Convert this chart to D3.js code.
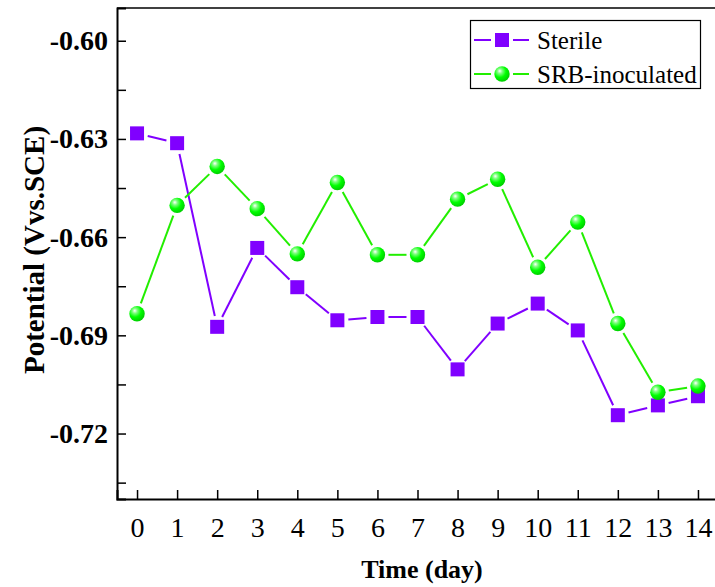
<html>
<head>
  <meta charset="utf-8">
  <script src="https://d3js.org/d3.v7.min.js"></script>
  <style>
    body { margin: 0; background: #fff; }
    text { font-family: "Liberation Serif", "Times New Roman", serif; }
  </style>
</head>
<body>
<svg id="chart" width="715" height="587"></svg>
<script>
var days = [0, 1, 2, 3, 4, 5, 6, 7, 8, 9, 10, 11, 12, 13, 14];
var sterile = [-0.6283, -0.6313, -0.6874, -0.6633, -0.6753, -0.6854, -0.6844, -0.6844,
               -0.7004, -0.6864, -0.6803, -0.6885, -0.7144, -0.7114, -0.7086];
var srb = [-0.6834, -0.6503, -0.6384, -0.6513, -0.6651, -0.6433, -0.6654, -0.6654,
           -0.6484, -0.6423, -0.6692, -0.6554, -0.6864, -0.7074, -0.7055];
var yTicks = [-0.72, -0.69, -0.66, -0.63, -0.60];
var yMinor = [-0.735, -0.705, -0.675, -0.645, -0.615];
var seriesNames = ["Sterile", "SRB-inoculated"];

var svg = d3.select("#chart");
var x = d3.scaleLinear().domain([-0.5, 14.5]).range([117, 718]);
var y = d3.scaleLinear().domain([-0.74, -0.59]).range([499, 8]);

// gradient for the ball markers
var defs = svg.append("defs");
var grad = defs.append("radialGradient").attr("id", "ball")
    .attr("cx", "0.38").attr("cy", "0.35").attr("r", "0.65").attr("fx", "0.35").attr("fy", "0.3");
grad.append("stop").attr("offset", "0").attr("stop-color", "#ffffff");
grad.append("stop").attr("offset", "0.25").attr("stop-color", "#7dff7d");
grad.append("stop").attr("offset", "0.6").attr("stop-color", "#00ff00");
grad.append("stop").attr("offset", "1").attr("stop-color", "#00d000");

// frame top line
svg.append("line").attr("x1", 117).attr("x2", 715).attr("y1", 8).attr("y2", 8)
    .attr("stroke", "#000").attr("stroke-width", 1.5);

// axes
var xAxis = svg.append("g").attr("transform", "translate(0," + y.range()[0] + ")")
    .call(d3.axisBottom(x).tickValues(days).tickSize(-9).tickPadding(18).tickFormat(d3.format("d")));
xAxis.select(".domain").attr("stroke-width", 2);
xAxis.selectAll(".tick line").attr("stroke-width", 1.5);
xAxis.selectAll("text").attr("font-size", 28).attr("font-family", "Liberation Serif").attr("fill", "#000");

var yAxis = svg.append("g").attr("transform", "translate(" + x.range()[0] + ",0)")
    .call(d3.axisLeft(y).tickValues(yTicks).tickSize(-9).tickPadding(9)
      .tickFormat(d => d.toFixed(2)));
yAxis.select(".domain").attr("stroke-width", 2);
yAxis.selectAll(".tick line").attr("stroke-width", 1.5);
yAxis.selectAll("text").attr("font-size", 28).attr("font-weight", "bold")
    .attr("font-family", "Liberation Serif").attr("fill", "#000");

svg.append("g").attr("transform", "translate(" + x.range()[0] + ",0)")
    .call(d3.axisLeft(y).tickValues(yMinor).tickSize(-9).tickFormat(""))
    .call(g => g.select(".domain").remove())
    .selectAll(".tick line").attr("stroke-width", 1.5);

// axis titles
svg.append("text").attr("x", 422).attr("y", 578).attr("text-anchor", "middle")
    .attr("font-size", 26).attr("font-weight", "bold").text("Time (day)");
svg.append("text").attr("transform", "translate(44,250) rotate(-90)").attr("text-anchor", "middle")
    .attr("font-size", 29).attr("font-weight", "bold").text("Potential (Vvs.SCE)");

// broken line segments between markers
function drawSegments(vals, color, gap) {
  var pts = days.map((d, i) => [x(d), y(vals[i])]);
  for (var i = 0; i < pts.length - 1; i++) {
    var a = pts[i], b = pts[i + 1];
    var dx = b[0] - a[0], dy = b[1] - a[1], len = Math.sqrt(dx * dx + dy * dy);
    if (len <= 2 * gap) continue;
    var ux = dx / len, uy = dy / len;
    svg.append("line")
      .attr("x1", a[0] + ux * gap).attr("y1", a[1] + uy * gap)
      .attr("x2", b[0] - ux * gap).attr("y2", b[1] - uy * gap)
      .attr("stroke", color).attr("stroke-width", 2);
  }
}
drawSegments(sterile, "#8000ff", 11);
drawSegments(srb, "#22ee00", 11);

svg.append("g").selectAll("rect").data(sterile).enter().append("rect")
    .attr("x", (d, i) => x(days[i]) - 7).attr("y", d => y(d) - 7)
    .attr("width", 14).attr("height", 14).attr("fill", "#8000ff");

svg.append("g").selectAll("circle").data(srb).enter().append("circle")
    .attr("cx", (d, i) => x(days[i])).attr("cy", d => y(d))
    .attr("r", 7.7).attr("fill", "url(#ball)");

// legend
var lg = svg.append("g");
lg.append("rect").attr("x", 470.5).attr("y", 20.5).attr("width", 230).attr("height", 68)
    .attr("fill", "#fff").attr("stroke", "#000").attr("stroke-width", 1.2);
var rows = [{ y: 40, color: "#8000ff" }, { y: 74, color: "#22ee00" }];
rows.forEach(function(r, i) {
  lg.append("line").attr("x1", 474).attr("x2", 491).attr("y1", r.y).attr("y2", r.y)
    .attr("stroke", r.color).attr("stroke-width", 2);
  lg.append("line").attr("x1", 513).attr("x2", 529).attr("y1", r.y).attr("y2", r.y)
    .attr("stroke", r.color).attr("stroke-width", 2);
  if (i === 0) {
    lg.append("rect").attr("x", 495).attr("y", r.y - 7).attr("width", 14).attr("height", 14).attr("fill", r.color);
  } else {
    lg.append("circle").attr("cx", 502).attr("cy", r.y).attr("r", 7.7).attr("fill", "url(#ball)");
  }
  lg.append("text").attr("x", 537).attr("y", r.y + 9).attr("font-size", 25).text(seriesNames[i]);
});
</script>
</body>
</html>
